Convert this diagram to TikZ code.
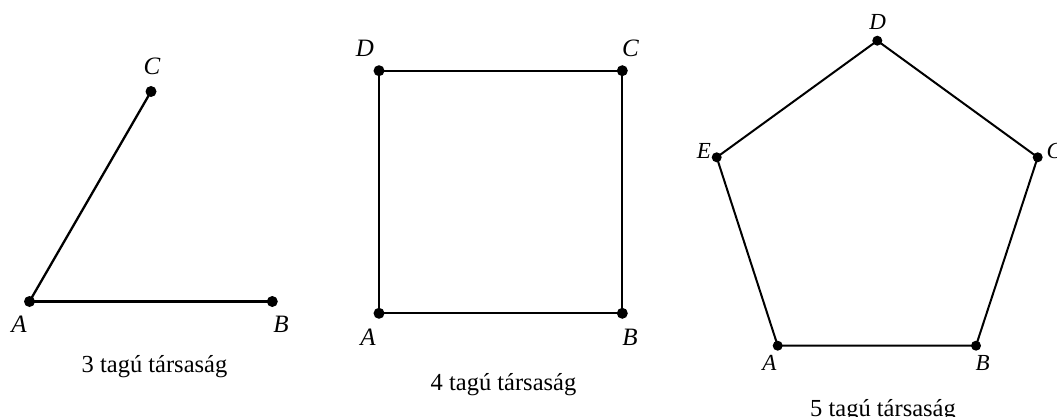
\documentclass[tikz,border=0pt]{standalone}
\usepackage{fontspec}
\setmainfont{Liberation Serif}
\tikzset{
  vtx/.style={circle,fill=black,inner sep=0pt,minimum size=11pt},
  lbl/.style={anchor=base,inner sep=0pt,font=\fontsize{25}{28}\selectfont\itshape},
  smlbl/.style={anchor=base,inner sep=0pt,font=\fontsize{23}{26}\selectfont\itshape},
  captxt/.style={anchor=base,inner sep=0pt,font=\fontsize{24.5}{28}\selectfont},
  seg/.style={line width=2.3pt}
}
\begin{document}
\begin{tikzpicture}[x=1pt,y=-1pt]
\useasboundingbox[fill=white] (0,0) rectangle (1057,417);
% figure 1
\node[vtx] (a1) at (29.5,301.5) {};
\node[vtx] (b1) at (272.3,301.5) {};
\node[vtx] (c1) at (151,91.5) {};
\draw[seg] (a1.center) -- (b1.center);
\draw[seg] (a1.center) -- (c1.center);
\node[lbl] (la1) at (19,332.5) {A};
\node[lbl] (lb1) at (281,332.5) {B};
\node[lbl] (lc1) at (152,75) {C};
\node[captxt] (cap1) at (154.5,372) {3 tagú társaság};
% figure 2
\node[vtx] (a2) at (379,313.3) {};
\node[vtx] (b2) at (622.3,313.3) {};
\node[vtx] (c2) at (622.3,70.7) {};
\node[vtx] (d2) at (379,70.7) {};
\draw[seg] (a2.center) -- (b2.center) -- (c2.center) -- (d2.center) -- cycle;
\node[lbl] (la2) at (368,345) {A};
\node[lbl] (lb2) at (630,345) {B};
\node[lbl] (lc2) at (630.5,56.7) {C};
\node[lbl] (ld2) at (365,56.7) {D};
\node[captxt] (cap2) at (503.5,390) {4 tagú társaság};
% figure 3
\node[vtx,minimum size=10pt] (a3) at (777.7,345.7) {};
\node[vtx,minimum size=10pt] (b3) at (976,345.7) {};
\node[vtx,minimum size=10pt] (c3) at (1037.7,157.3) {};
\node[vtx,minimum size=10pt] (d3) at (877.3,40.7) {};
\node[vtx,minimum size=10pt] (e3) at (716.7,157.3) {};
\draw[seg,line width=2pt] (a3.center) -- (b3.center) -- (c3.center) -- (d3.center) -- (e3.center) -- cycle;
\node[smlbl] (la3) at (769.3,370) {A};
\node[smlbl] (lb3) at (982.7,370) {B};
\node[smlbl,anchor=base west] (lc3) at (1046.5,158) {C};
\node[smlbl] (ld3) at (877.7,30) {D};
\node[smlbl] (le3) at (704,158) {E};
\node[captxt] (cap3) at (883,416) {5 tagú társaság};
\end{tikzpicture}
\end{document}
